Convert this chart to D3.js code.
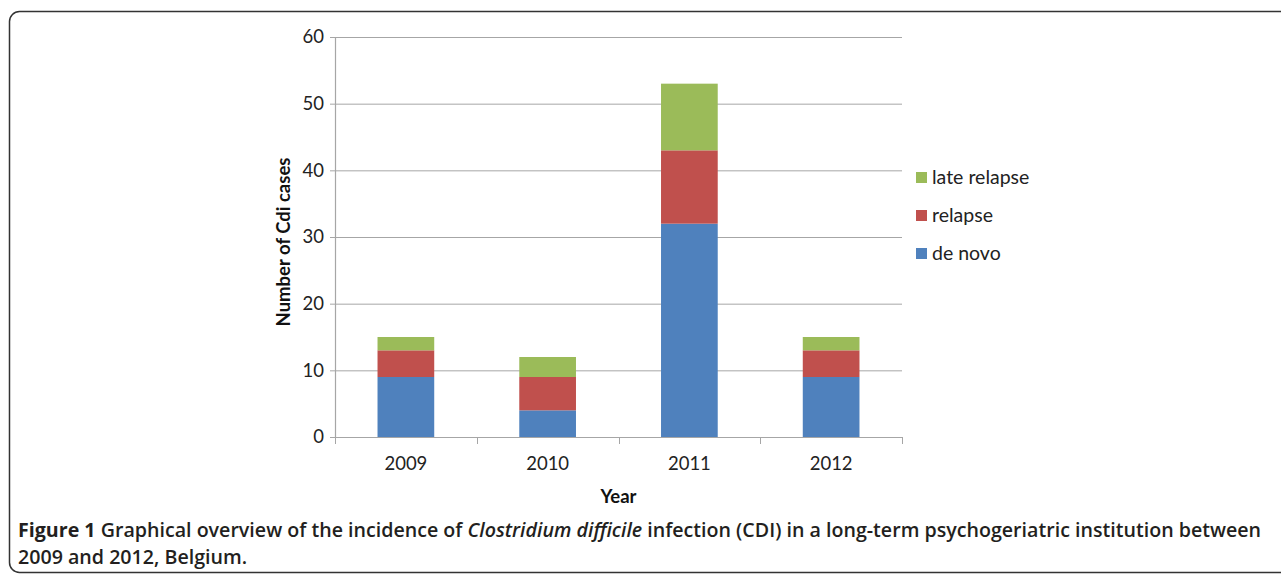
<!DOCTYPE html>
<html>
<head>
<meta charset="utf-8">
<script src="https://cdn.jsdelivr.net/npm/d3@7"></script>
<style>
  body { margin: 0; background: #fff; }
  svg { display: block; }
</style>
</head>
<body>
<div id="chart"></div>
<script>
var years     = ['2009', '2010', '2011', '2012'],
    deNovo    = [9, 4, 32, 9],
    relapse   = [4, 5, 11, 4],
    late      = [2, 3, 10, 2],
    yTicks    = [0, 10, 20, 30, 40, 50, 60],
    seriesNames = ['de novo', 'relapse', 'late relapse'],
    colors    = ['#4f81bd', '#c0504d', '#9bbb59'];

var W = 1281, H = 575,
    margin = {left: 335, right: 379, top: 37, bottom: 138},
    innerW = W - margin.left - margin.right,
    innerH = H - margin.top - margin.bottom,
    FONT = 'Lato, "Open Sans", sans-serif';

var svg = d3.select('#chart').append('svg')
    .attr('width', W).attr('height', H);

// frame round the figure
svg.append('rect')
    .attr('x', 9.5).attr('y', 11.5)
    .attr('width', 1290).attr('height', 561)
    .attr('rx', 10).attr('ry', 10)
    .style('fill', 'none').style('stroke', '#333').style('stroke-width', 1.5);

var g = svg.append('g').attr('transform', 'translate(' + margin.left + ',' + margin.top + ')');

var table = years.map(function(y, i) {
    return {year: y, 'de novo': deNovo[i], 'relapse': relapse[i], 'late relapse': late[i]};
});
var stacked = d3.stack().keys(seriesNames)(table);

var x = d3.scaleBand().domain(years).range([0, innerW]).paddingInner(0.6).paddingOuter(0.3);
var y = d3.scaleLinear().domain([0, 60]).range([innerH, 0]);

// gridlines
g.selectAll('line.grid').data(yTicks.slice(1)).enter().append('line')
    .attr('x1', 0).attr('x2', innerW)
    .attr('y1', function(d) { return y(d) + 0.5; })
    .attr('y2', function(d) { return y(d) + 0.5; })
    .style('stroke', '#a6a6a6').style('stroke-width', 1);

// bars
g.selectAll('g.series').data(stacked).enter().append('g')
    .style('fill', function(d, i) { return colors[i]; })
  .selectAll('rect').data(function(d) { return d; }).enter().append('rect')
    .attr('x', function(d) { return x(d.data.year); })
    .attr('width', x.bandwidth())
    .attr('y', function(d) { return y(d[1]); })
    .attr('height', function(d) { return y(d[0]) - y(d[1]); });

// y axis
var yAxis = g.append('g')
    .call(d3.axisLeft(y).tickValues(yTicks).tickSize(5).tickPadding(6));
// x axis
var step = innerW / years.length;
var xAxis = g.append('g').attr('transform', 'translate(0,' + innerH + ')')
    .call(d3.axisBottom(x).tickSize(0).tickPadding(20));
g.append('g').attr('transform', 'translate(0,' + innerH + ')')
    .selectAll('line').data(d3.range(years.length + 1)).enter().append('line')
    .attr('x1', function(d) { return Math.round(d * step) + 0.5; })
    .attr('x2', function(d) { return Math.round(d * step) + 0.5; })
    .attr('y1', 0).attr('y2', 7)
    .style('stroke', '#a6a6a6');

[yAxis, xAxis].forEach(function(a) {
    a.select('.domain').style('stroke', '#a6a6a6').style('stroke-width', 1.2);
    a.selectAll('.tick line').style('stroke', '#a6a6a6');
    a.selectAll('.tick text')
        .style('font-family', FONT)
        .style('font-size', '18.5px')
        .style('fill', '#222');
});
xAxis.select('.domain').attr('d', 'M0,0.5H' + innerW);

// axis titles
svg.append('text')
    .attr('transform', 'translate(290,242) rotate(-90)')
    .attr('text-anchor', 'middle')
    .style('font-family', FONT)
    .style('font-weight', 700).style('font-size', '18.5px').style('fill', '#111')
    .text('Number of Cdi cases');
svg.append('text')
    .attr('x', margin.left + innerW / 2).attr('y', 503)
    .attr('text-anchor', 'middle')
    .style('font-family', FONT)
    .style('font-weight', 700).style('font-size', '18.5px').style('fill', '#111')
    .text('Year');

// legend
var legend = svg.append('g').attr('transform', 'translate(916,177)');
var legendRows = legend.selectAll('g').data(seriesNames.slice().reverse()).enter().append('g')
    .attr('transform', function(d, i) { return 'translate(0,' + i * 38 + ')'; });
legendRows.append('rect')
    .attr('x', 0).attr('y', -5).attr('width', 11).attr('height', 11)
    .style('fill', function(d) { return colors[seriesNames.indexOf(d)]; });
legendRows.append('text')
    .attr('x', 16).attr('y', 6.5)
    .style('font-family', FONT)
    .style('font-size', '19.5px').style('fill', '#222')
    .text(function(d) { return d; });

// caption
var capSize = 17.5;
var cap = svg.append('text')
    .attr('x', 18).attr('y', 537)
    .style('font-family', '"Open Sans", "Noto Sans", sans-serif')
    .style('font-size', capSize + 'px').style('fill', '#231f20').style('font-weight', 600);
cap.append('tspan').style('font-weight', 700).text('Figure 1');
cap.append('tspan').text(' Graphical overview of the incidence of ');
cap.append('tspan').style('font-style', 'italic').text('Clostridium difficile');
cap.append('tspan').text(' infection (CDI) in a long-term psychogeriatric institution between');
var cap2 = svg.append('text')
    .attr('x', 18).attr('y', 564)
    .style('font-family', '"Open Sans", "Noto Sans", sans-serif')
    .style('font-size', capSize + 'px').style('fill', '#231f20').style('font-weight', 600)
    .text('2009 and 2012, Belgium.');

// size the caption so the first line fills the printed width
var capLen = cap.node().getComputedTextLength();
if (capLen > 0) {
    capSize = capSize * 1244 / capLen;
    cap.style('font-size', capSize + 'px');
    cap2.style('font-size', capSize + 'px');
}
</script>
</body>
</html>
